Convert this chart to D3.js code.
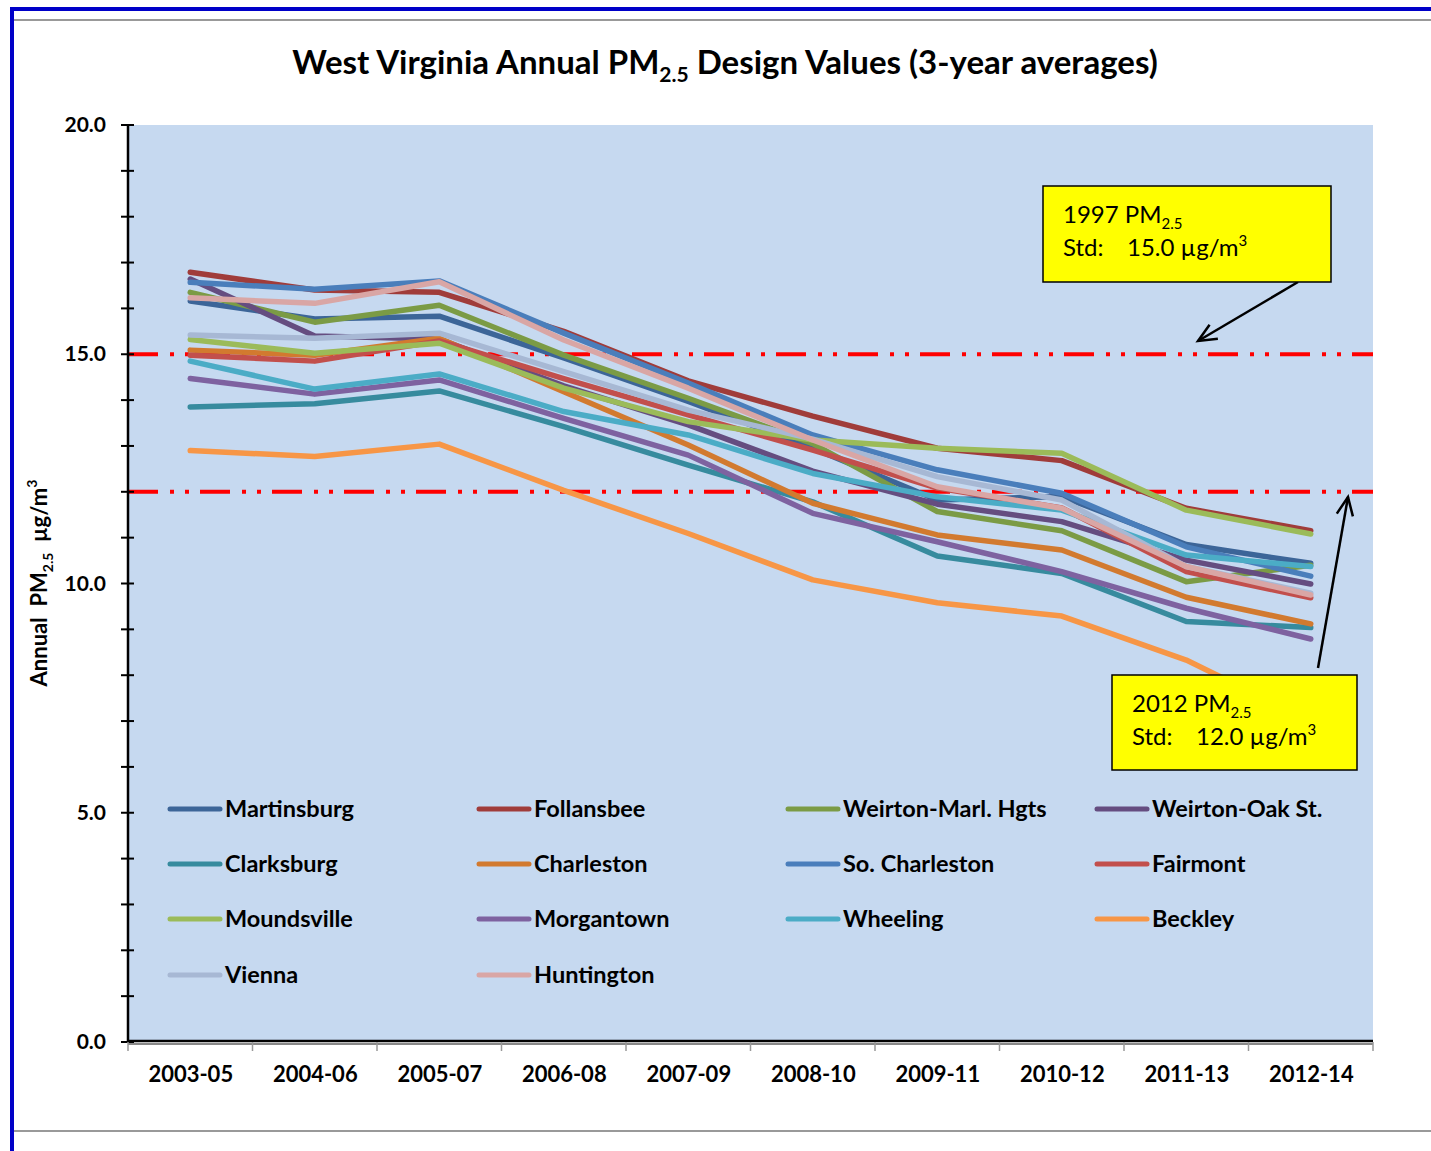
<!DOCTYPE html>
<html>
<head>
<meta charset="utf-8">
<script src="https://cdn.jsdelivr.net/npm/d3@7"></script>
<style>
  body { margin: 0; background: #fff; }
  svg { display: block; font-family: Lato, "Open Sans", sans-serif; }
</style>
</head>
<body>
<div id="chart"></div>
<script>
// categories (3-year periods)
const periods = ["2003-05", "2004-06", "2005-07", "2006-08", "2007-09", "2008-10", "2009-11", "2010-12", "2011-13", "2012-14"];

// design values per site, µg/m3
const martinsburg  = [16.16, 15.77, 15.83, 14.92, 13.97, 12.95, 11.82, 11.90, 10.85, 10.44];
const follansbee   = [16.79, 16.40, 16.35, 15.50, 14.42, 13.65, 12.95, 12.68, 11.64, 11.15];
const weirtonMarl  = [16.35, 15.70, 16.07, 14.98, 14.04, 13.05, 11.57, 11.15, 10.04, 10.40];
const weirtonOak   = [16.64, 15.40, 15.33, 14.31, 13.46, 12.45, 11.73, 11.35, 10.51, 9.99];
const clarksburg   = [13.85, 13.92, 14.20, 13.42, 12.58, 11.78, 10.60, 10.22, 9.17, 9.04];
const charleston   = [15.09, 14.98, 15.35, 14.18, 13.02, 11.75, 11.06, 10.73, 9.70, 9.12];
const soCharleston = [16.57, 16.42, 16.60, 15.46, 14.37, 13.24, 12.48, 11.97, 10.80, 10.16];
const fairmont     = [14.98, 14.85, 15.29, 14.47, 13.68, 12.91, 12.08, 11.65, 10.26, 9.69];
const moundsville  = [15.32, 15.02, 15.24, 14.26, 13.53, 13.13, 12.95, 12.84, 11.60, 11.08];
const morgantown   = [14.47, 14.13, 14.44, 13.60, 12.80, 11.53, 10.91, 10.26, 9.46, 8.79];
const wheeling     = [14.85, 14.24, 14.57, 13.75, 13.24, 12.40, 11.89, 11.60, 10.62, 10.37];
const beckley      = [12.90, 12.77, 13.04, 12.03, 11.09, 10.08, 9.58, 9.29, 8.33, 7.00];
const vienna       = [15.42, 15.35, 15.46, 14.62, 13.78, 13.15, 12.33, 11.82, 10.37, 9.79];
const huntington   = [16.23, 16.11, 16.58, 15.31, 14.26, 13.13, 12.11, 11.64, 10.37, 9.75];

const siteNames = ["Martinsburg", "Follansbee", "Weirton-Marl. Hgts", "Weirton-Oak St.",
  "Clarksburg", "Charleston", "So. Charleston", "Fairmont",
  "Moundsville", "Morgantown", "Wheeling", "Beckley",
  "Vienna", "Huntington"];
const siteValues = [martinsburg, follansbee, weirtonMarl, weirtonOak,
  clarksburg, charleston, soCharleston, fairmont,
  moundsville, morgantown, wheeling, beckley,
  vienna, huntington];
const siteColors = ["#3C6598", "#A03C3A", "#7B9B45", "#654D80",
  "#378B9E", "#D27A2F", "#4A7EBB", "#C24F4C",
  "#9BBB59", "#7E62A0", "#4BACC6", "#F79646",
  "#A7B8D4", "#D9A6A5"];

const yTicks = [0, 5, 10, 15, 20];
const standards = [15.0, 12.0];

const W = 1431, H = 1151;
const plot = { left: 128, right: 1373, top: 125, bottom: 1042 };

const svg = d3.select("#chart").append("svg")
  .attr("width", W).attr("height", H);

// frame lines
svg.append("rect").attr("x", 10).attr("y", 7).attr("width", W - 10).attr("height", 4).attr("fill", "#0000C8");
svg.append("rect").attr("x", 10).attr("y", 7).attr("width", 4).attr("height", H - 7).attr("fill", "#0000C8");
svg.append("line").attr("x1", 14).attr("x2", W).attr("y1", 20).attr("y2", 20).attr("stroke", "#999").attr("stroke-width", 2);
svg.append("line").attr("x1", 14).attr("x2", W).attr("y1", 1131).attr("y2", 1131).attr("stroke", "#999").attr("stroke-width", 2);

// title
const title = svg.append("text").attr("x", 725).attr("y", 74)
  .attr("text-anchor", "middle").attr("font-size", 33).attr("font-weight", "bold").attr("fill", "#000");
title.append("tspan").text("West Virginia Annual PM");
title.append("tspan").attr("font-size", 21).attr("dy", 8).text("2.5");
title.append("tspan").attr("dy", -8).text(" Design Values (3-year averages)");

// scales
const x = d3.scalePoint().domain(periods).range([plot.left, plot.right]).padding(0.5);
const y = d3.scaleLinear().domain([0, 20]).range([plot.bottom, plot.top]);

// plot background
svg.append("rect").attr("x", plot.left).attr("y", plot.top)
  .attr("width", plot.right - plot.left).attr("height", plot.bottom - plot.top)
  .attr("fill", "#C6D9F0");

// standards lines (dash-dot-dot)
svg.selectAll(".std").data(standards).enter().append("line")
  .attr("class", "std")
  .attr("x1", plot.left).attr("x2", plot.right)
  .attr("y1", d => y(d)).attr("y2", d => y(d))
  .attr("stroke", "#FF0000").attr("stroke-width", 4)
  .attr("stroke-dasharray", "30 12 4 11 4 11");

// series lines
const line = d3.line().x((d, i) => x(periods[i])).y(d => y(d));
svg.selectAll(".site").data(siteValues).enter().append("path")
  .attr("class", "site")
  .attr("d", d => line(d))
  .attr("fill", "none")
  .attr("stroke", (d, i) => siteColors[i])
  .attr("stroke-width", 5.5)
  .attr("stroke-linejoin", "round")
  .attr("stroke-linecap", "round");

// y axis
const yAxis = svg.append("g").attr("transform", `translate(${plot.left},0)`)
  .call(d3.axisLeft(y).tickValues(yTicks).tickFormat(d3.format(".1f")).tickSize(0).tickPadding(22));
yAxis.select(".domain").remove();
yAxis.selectAll("text").attr("font-size", 21).attr("font-weight", "bold").attr("fill", "#000")
  .attr("font-family", "Lato, sans-serif");
svg.append("g").selectAll("line").data(d3.range(0, 21)).enter().append("line")
  .attr("x1", plot.left - 7).attr("x2", plot.left + 6)
  .attr("y1", d => y(d)).attr("y2", d => y(d))
  .attr("stroke", "#000").attr("stroke-width", 2);
svg.append("line").attr("x1", plot.left).attr("x2", plot.left)
  .attr("y1", plot.top).attr("y2", plot.bottom + 1)
  .attr("stroke", "#000").attr("stroke-width", 2.5);

// x axis
svg.append("line").attr("x1", plot.left).attr("x2", plot.right)
  .attr("y1", plot.bottom + 2).attr("y2", plot.bottom + 2)
  .attr("stroke", "#888").attr("stroke-width", 2);
svg.append("line").attr("x1", plot.left).attr("x2", plot.right)
  .attr("y1", plot.bottom - 1).attr("y2", plot.bottom - 1)
  .attr("stroke", "#000").attr("stroke-width", 2.5);
const step = x.step();
svg.append("g").selectAll("line").data(d3.range(periods.length + 1)).enter().append("line")
  .attr("x1", i => plot.left + i * step).attr("x2", i => plot.left + i * step)
  .attr("y1", plot.bottom).attr("y2", plot.bottom + 9)
  .attr("stroke", "#999").attr("stroke-width", 1.5);
const xAxis = svg.append("g").attr("transform", `translate(0,${plot.bottom})`)
  .call(d3.axisBottom(x).tickSize(0).tickPadding(24));
xAxis.select(".domain").remove();
xAxis.selectAll("text").attr("font-size", 22).attr("font-weight", "bold").attr("fill", "#000")
  .attr("font-family", "Lato, sans-serif");

// y axis title
const yTitle = svg.append("text")
  .attr("transform", "translate(47,583) rotate(-90)")
  .attr("text-anchor", "middle").attr("font-size", 22).attr("font-weight", "bold").attr("fill", "#000");
yTitle.append("tspan").text("Annual\u00A0\u00A0PM");
yTitle.append("tspan").attr("font-size", 14).attr("dy", 6).text("2.5");
yTitle.append("tspan").attr("dy", -6).text("\u00A0\u00A0µg/m");
yTitle.append("tspan").attr("font-size", 14).attr("dy", -10).text("3");

// legend
const legendX = [170, 479, 788, 1097];
const legendY = [809, 864, 919, 975];
const legend = svg.append("g").selectAll("g").data(siteNames).enter().append("g")
  .attr("transform", (d, i) => `translate(${legendX[i % 4]},${legendY[Math.floor(i / 4)]})`);
legend.append("line").attr("x1", 0).attr("x2", 50).attr("y1", 0).attr("y2", 0)
  .attr("stroke", (d, i) => siteColors[i]).attr("stroke-width", 5).attr("stroke-linecap", "round");
legend.append("text").attr("x", 55).attr("y", 8)
  .attr("font-size", 23.5).attr("font-weight", "bold").attr("fill", "#000")
  .text(d => d);

// annotation boxes with arrows
function arrow(x1, y1, x2, y2) {
  svg.append("line").attr("x1", x1).attr("y1", y1).attr("x2", x2).attr("y2", y2)
    .attr("stroke", "#000").attr("stroke-width", 2.5);
  const a = Math.atan2(y2 - y1, x2 - x1), len = 20, spread = 0.42;
  const p1 = [x2 - len * Math.cos(a - spread), y2 - len * Math.sin(a - spread)];
  const p2 = [x2 - len * Math.cos(a + spread), y2 - len * Math.sin(a + spread)];
  svg.append("path").attr("d", `M${p1[0]},${p1[1]}L${x2},${y2}L${p2[0]},${p2[1]}`)
    .attr("fill", "none").attr("stroke", "#000").attr("stroke-width", 2.5);
}
function stdBox(bx, by, bw, bh, year, val) {
  svg.append("rect").attr("x", bx).attr("y", by).attr("width", bw).attr("height", bh)
    .attr("fill", "#FFFF00").attr("stroke", "#000").attr("stroke-width", 1.5);
  const t1 = svg.append("text").attr("x", bx + 20).attr("y", by + 37)
    .attr("font-size", 24).attr("fill", "#000");
  t1.append("tspan").text(year + " PM");
  t1.append("tspan").attr("font-size", 15).attr("dy", 6).text("2.5");
  const t2 = svg.append("text").attr("y", by + 70).attr("font-size", 24).attr("fill", "#000");
  t2.append("tspan").attr("x", bx + 20).text("Std:");
  t2.append("tspan").attr("x", bx + 84).text(val + " µg/m");
  t2.append("tspan").attr("font-size", 15).attr("dy", -10).text("3");
}
arrow(1298, 282, 1198, 341);
stdBox(1043, 186, 288, 96, "1997", "15.0");
arrow(1318, 668, 1348, 497);
stdBox(1112, 675, 245, 95, "2012", "12.0");
</script>
</body>
</html>
